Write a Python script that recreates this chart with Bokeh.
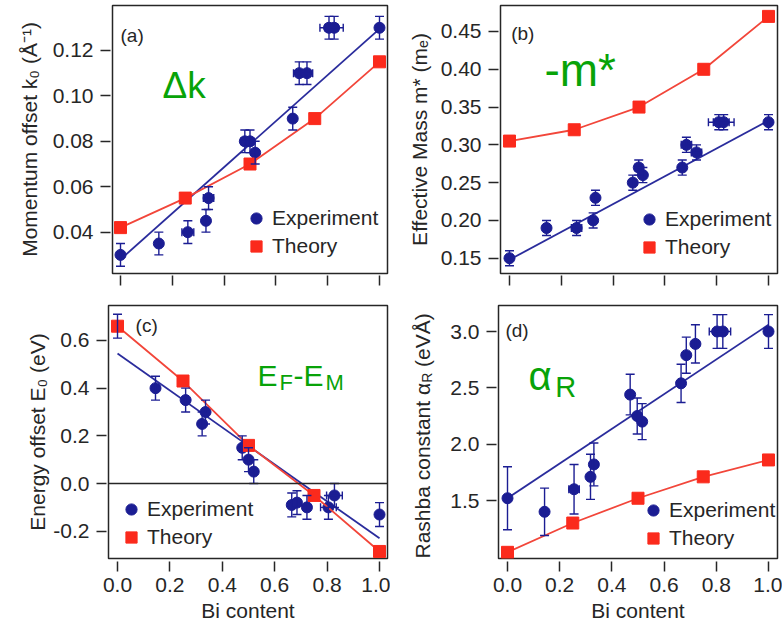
from bokeh.embed import file_html
from bokeh.layouts import column, row
from bokeh.models import (ColumnDataSource, CustomJSTickFormatter, FixedTicker, Label, Legend,
                          LegendItem, PrintfTickFormatter, Range1d, Span, TeeHead, Whisker)
from bokeh.plotting import figure
from bokeh.resources import INLINE
import math

FONT = "Liberation Sans"
INK = "#262626"
BLUE = "#1b1d93"
BLUE_LINE = "#2a2c9c"
RED = "#fb2a1c"
RED_LINE = "#f2463a"
GREEN = "#08a308"

# ---- Bi content of the measured samples (one list per panel) ----
bi_a = [0.0, 0.148, 0.26, 0.33, 0.34, 0.48, 0.50, 0.52, 0.665, 0.69, 0.72, 0.805, 0.825, 1.0]
bi_b = [0.0, 0.143, 0.259, 0.323, 0.332, 0.476, 0.499, 0.515, 0.667, 0.683, 0.722, 0.808, 0.827, 1.0]
bi_c = [0.0, 0.145, 0.26, 0.323, 0.336, 0.476, 0.50, 0.52, 0.665, 0.685, 0.723, 0.805, 0.828, 1.0]
bi_d = [0.0, 0.142, 0.255, 0.318, 0.331, 0.47, 0.497, 0.516, 0.665, 0.685, 0.72, 0.803, 0.825, 1.0]

# ---- measured values with error bars ----
k0_exp = [0.030, 0.035, 0.040, 0.045, 0.055, 0.080, 0.080, 0.075, 0.090, 0.110, 0.110, 0.130, 0.130, 0.130]
k0_yerr = [0.005, 0.005, 0.005, 0.005, 0.005, 0.005, 0.005, 0.005, 0.005, 0.005, 0.005, 0.005, 0.005, 0.005]
k0_xerr = [0.0, 0.0, 0.023, 0.0, 0.02, 0.015, 0.015, 0.0, 0.0, 0.022, 0.022, 0.035, 0.035, 0.0]

m_exp = [0.150, 0.190, 0.190, 0.200, 0.230, 0.250, 0.270, 0.260, 0.270, 0.300, 0.290, 0.330, 0.330, 0.330]
m_yerr = [0.01, 0.01, 0.01, 0.01, 0.01, 0.01, 0.01, 0.01, 0.01, 0.01, 0.01, 0.01, 0.01, 0.01]
m_xerr = [0.0, 0.0, 0.02, 0.0, 0.0, 0.0, 0.015, 0.0, 0.0, 0.02, 0.02, 0.04, 0.04, 0.0]

e_exp = [0.66, 0.40, 0.35, 0.25, 0.30, 0.15, 0.10, 0.05, -0.09, -0.08, -0.10, -0.10, -0.05, -0.13]
e_yerr = [0.05, 0.05, 0.05, 0.05, 0.05, 0.05, 0.05, 0.05, 0.05, 0.05, 0.05, 0.05, 0.05, 0.05]
e_xerr = [0.0, 0.0, 0.0, 0.0, 0.0, 0.0, 0.0, 0.0, 0.0, 0.0, 0.0, 0.03, 0.03, 0.0]

a_exp = [1.52, 1.40, 1.60, 1.71, 1.82, 2.44, 2.25, 2.20, 2.54, 2.79, 2.89, 3.00, 3.00, 3.00]
a_yerr = [0.28, 0.21, 0.22, 0.20, 0.19, 0.18, 0.16, 0.16, 0.17, 0.16, 0.17, 0.15, 0.15, 0.15]
a_xerr = [0.0, 0.0, 0.02, 0.0, 0.0, 0.0, 0.0, 0.0, 0.0, 0.0, 0.0, 0.03, 0.03, 0.0]

# ---- calculated values ----
bi_th = [0.0, 0.25, 0.50, 0.75, 1.0]
k0_th = [0.042, 0.055, 0.070, 0.090, 0.115]
m_th = [0.305, 0.320, 0.350, 0.400, 0.470]
e_th = [0.66, 0.43, 0.16, -0.05, -0.285]
a_th = [1.04, 1.30, 1.52, 1.71, 1.86]

# ---- straight-line fits to the measurements (end points) ----
fit_x = [0.0, 1.0]
k0_fit = [0.028, 0.1295]
m_fit = [0.148, 0.332]
e_fit = [0.545, -0.23]
a_fit = [1.52, 3.06]

x_ticks = [0.0, 0.2, 0.4, 0.6, 0.8, 1.0]


def make_panel(width, height, borders, xr, yr, yticks, yformat, ylabel, label_gap, bottom_row):
    left, right, top, bottom = borders
    p = figure(width=width, height=height, x_range=Range1d(*xr), y_range=Range1d(*yr),
               output_backend="svg", toolbar_location=None,
               min_border_left=left, min_border_right=right,
               min_border_top=top, min_border_bottom=bottom)
    p.background_fill_color = "white"
    p.border_fill_color = "white"
    p.outline_line_color = INK
    p.outline_line_width = 1.5
    p.outline_line_alpha = 1.0
    p.grid.visible = False
    for ax in (p.xaxis[0], p.yaxis[0]):
        ax.axis_line_color = None
        ax.major_tick_line_color = INK
        ax.major_tick_line_width = 1.5
        ax.major_tick_in = -2
        ax.major_tick_out = 12
        ax.minor_tick_line_color = None
        ax.major_label_text_font = FONT
        ax.major_label_text_font_size = "21px"
        ax.major_label_text_color = INK
        ax.axis_label_text_font = FONT
        ax.axis_label_text_font_size = "21px"
        ax.axis_label_text_font_style = "normal"
        ax.axis_label_text_color = INK
    xa = p.xaxis[0]
    ya = p.yaxis[0]
    xa.ticker = FixedTicker(ticks=x_ticks)
    ya.ticker = FixedTicker(ticks=yticks)
    ya.formatter = PrintfTickFormatter(format=yformat)
    ya.major_label_standoff = 7
    if ylabel:
        ya.axis_label = ylabel
        ya.axis_label_standoff = label_gap
    if bottom_row:
        xa.major_tick_in = -3
        xa.major_tick_out = 13
        xa.formatter = PrintfTickFormatter(format="%.1f")
        xa.major_label_standoff = 6
        xa.axis_label = "Bi content"
        xa.axis_label_standoff = 4
    else:
        xa.formatter = CustomJSTickFormatter(code="return '';")
    return p


def add_data(p, bi, yexp, yerr, xerr, th, fit, legend_loc):
    src = ColumnDataSource(dict(
        x=bi, y=yexp,
        yl=[v - e for v, e in zip(yexp, yerr)],
        yu=[v + e for v, e in zip(yexp, yerr)],
    ))
    xs = [(x, y, e) for x, y, e in zip(bi, yexp, xerr) if e > 0]
    xsrc = ColumnDataSource(dict(
        y=[t[1] for t in xs],
        xl=[t[0] - t[2] for t in xs],
        xu=[t[0] + t[2] for t in xs],
    ))
    p.line(fit_x, fit, line_color=BLUE_LINE, line_width=1.8)
    p.add_layout(Whisker(source=src, base="x", lower="yl", upper="yu", dimension="height",
                         line_color=BLUE, line_width=1.4, level="glyph",
                         upper_head=TeeHead(size=9, line_color=BLUE, line_width=1.4),
                         lower_head=TeeHead(size=9, line_color=BLUE, line_width=1.4)))
    p.add_layout(Whisker(source=xsrc, base="y", lower="xl", upper="xu", dimension="width",
                         line_color=BLUE, line_width=1.4, level="glyph",
                         upper_head=TeeHead(size=8, line_color=BLUE, line_width=1.4),
                         lower_head=TeeHead(size=8, line_color=BLUE, line_width=1.4)))
    r_exp = p.scatter("x", "y", source=src, marker="circle", size=11,
                      fill_color=BLUE, line_color=BLUE)
    p.line(bi_th, th, line_color=RED_LINE, line_width=1.8)
    r_th = p.scatter(bi_th, th, marker="square", size=12, fill_color=RED, line_color=RED)
    leg = Legend(items=[LegendItem(label="Experiment", renderers=[r_exp]),
                        LegendItem(label="Theory", renderers=[r_th])],
                 location=legend_loc, glyph_width=28, glyph_height=28, spacing=-3,
                 label_standoff=2, padding=0, margin=0, border_line_color=None,
                 background_fill_alpha=0.0, label_text_font=FONT,
                 label_text_font_size="21px", label_text_color=INK)
    p.add_layout(leg)


def tag(p, x, y, text, size, color=INK, baseline="middle", angle=0.0, align="left"):
    p.add_layout(Label(x=x, y=y, text=text, text_font=FONT, text_font_size=size,
                       text_color=color, text_align=align, text_baseline=baseline,
                       angle=angle))


# (a) momentum offset
pa = make_panel(390, 300, (112, 3, 5, 27), (-0.0309, 1.0309), (0.0218, 0.1398),
                [0.04, 0.06, 0.08, 0.10, 0.12], "%.2f",
                "Momentum offset k\u2080 (\u00c5\u207b\u00b9)", 9, False)
add_data(pa, bi_a, k0_exp, k0_yerr, k0_xerr, k0_th, k0_fit, (130, 13))
tag(pa, 0.0, 0.1266, "(a)", "19px")
tag(pa, 0.162, 0.1046, "\u0394k", "37px", GREEN, "alphabetic")

# (b) effective mass
pb = make_panel(392, 300, (110, 5, 5, 27), (-0.0347, 1.0347), (0.1298, 0.4844),
                [0.15, 0.20, 0.25, 0.30, 0.35, 0.40, 0.45], "%.2f",
                "Effective Mass m* (m\u2091)", 7, False)
add_data(pb, bi_b, m_exp, m_yerr, m_xerr, m_th, m_fit, (135, 12))
tag(pb, 0.0066, 0.447, "(b)", "19px")
tag(pb, 0.135, 0.3984, "-m*", "46px", GREEN, "alphabetic")

# (c) energy offset
pc = make_panel(390, 329, (108, 3, 5, 71), (-0.0344, 1.0305), (-0.3145, 0.7468),
                [-0.2, 0.0, 0.2, 0.4, 0.6], "%.1f",
                "Energy offset E\u2080 (eV)", 1, True)
pc.add_layout(Span(location=0.0, dimension="width", line_color=INK, line_width=1.5))
add_data(pc, bi_c, e_exp, e_yerr, e_xerr, e_th, e_fit, (9, 7))
tag(pc, 0.069, 0.663, "(c)", "19px")
tag(pc, 0.534, 0.453, "E", "30px", GREEN, "alphabetic")
tag(pc, 0.618, 0.424, "F", "22px", GREEN, "alphabetic")
tag(pc, 0.672, 0.453, "-E", "30px", GREEN, "alphabetic")
tag(pc, 0.794, 0.424, "M", "22px", GREEN, "alphabetic")

# (d) Rashba constant
pd = make_panel(342, 329, (58, 5, 5, 71), (-0.0345, 1.0345), (0.9852, 3.2308),
                [1.5, 2.0, 2.5, 3.0], "%.1f", None, 0, True)
add_data(pd, bi_d, a_exp, a_yerr, a_xerr, a_th, a_fit, (141, 6))
tag(pd, -0.008, 3.01, "(d)", "19px")
tag(pd, 0.080, 2.609, "\u03b1", "40px", GREEN, "alphabetic")
tag(pd, 0.183, 2.503, "R", "29px", GREEN, "alphabetic")

# y title of (d) sits in a narrow strip to its left that shares the panel's y range,
# so the subscript R can be placed as a separate, centred piece of text
strip = figure(width=50, height=329, x_range=Range1d(0, 50), y_range=pd.y_range,
               output_backend="svg", toolbar_location=None, x_axis_type=None, y_axis_type=None,
               min_border_left=0, min_border_right=0, min_border_top=5, min_border_bottom=71)
strip.outline_line_color = None
strip.grid.visible = False
strip.background_fill_color = "white"
strip.border_fill_color = "white"
tag(strip, 32, 1.7645, "Rashba constant \u03b1", "21px", INK, "middle", math.pi / 2, "center")
tag(strip, 36, 2.589, "R", "14px", INK, "middle", math.pi / 2, "center")
tag(strip, 32, 2.924, "(eV\u00c5)", "21px", INK, "middle", math.pi / 2, "center")

layout = column(row(pa, pb), row(pc, strip, pd))
open("out.html", "w").write(file_html(layout, INLINE))
